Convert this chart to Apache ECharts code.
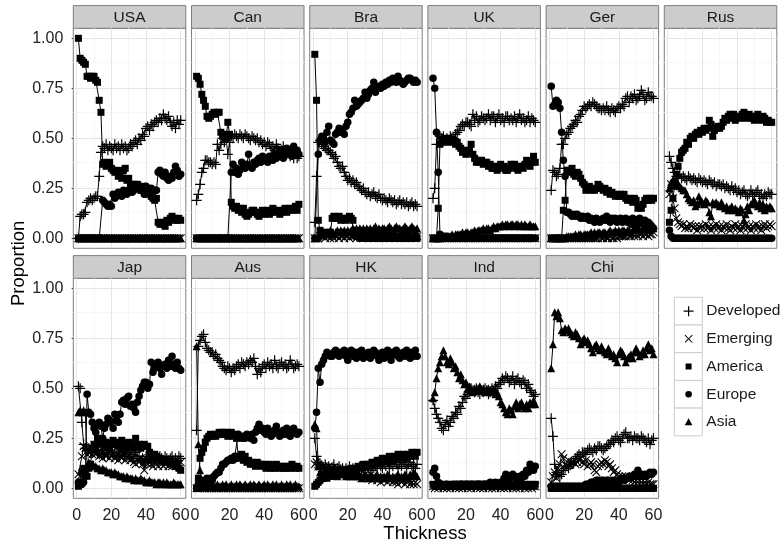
<!DOCTYPE html>
<html><head><meta charset="utf-8">
<script src="https://cdn.jsdelivr.net/npm/echarts@6.0.0/dist/echarts.min.js"></script>
<style>html,body{margin:0;padding:0;background:#fff}#chart{width:783px;height:550px}</style>
</head><body><div id="chart"></div>
<script>
const thickness = [1,2,3,4,5,6,7,8,9,10,11,12,13,14,15,16,17,18,19,20,21,22,23,24,25,26,27,28,29,30,
  31,32,33,34,35,36,37,38,39,40,41,42,43,44,45,46,47,48,49,50,51,52,53,54,55,56,57,58,59,60];
const panelNames = ['USA','Can','Bra','UK','Ger','Rus','Jap','Aus','HK','Ind','Chi'];
const seriesNames = ['Developed','Emerging','America','Europe','Asia'];
const xTicks = [0,20,40,60];
const yTicks = [0,0.25,0.5,0.75,1];

const zeros = [0,0,0,0,0,0,0,0,0,0, 0,0,0,0,0,0,0,0,0,0, 0,0,0,0,0,0,0,0,0,0,
  0,0,0,0,0,0,0,0,0,0, 0,0,0,0,0,0,0,0,0,0, 0,0,0,0,0,0,0,0,0,0];

// USA
const usaDev = [0.00,0.11,0.12,0.12,0.13,0.18,0.19,0.20,0.19,0.20, 0.21,0.21,0.31,0.43,0.46,0.45,0.47,0.44,0.46,0.45,
  0.44,0.47,0.45,0.46,0.44,0.47,0.45,0.46,0.44,0.45, 0.47,0.46,0.48,0.49,0.47,0.50,0.49,0.52,0.51,0.55,
  0.56,0.54,0.57,0.56,0.58,0.59,0.58,0.60,0.59,0.62, 0.60,0.59,0.61,0.58,0.56,0.58,0.55,0.59,0.57,0.59];
const usaEm = zeros;
const usaAm = [1.00,0.90,0.89,0.88,0.87,0.81,0.81,0.80,0.81,0.81, 0.79,0.78,0.69,0.63,0.37,0.38,0.36,0.37,0.38,0.35,
  0.34,0.33,0.34,0.31,0.33,0.30,0.34,0.35,0.29,0.30, 0.27,0.26,0.27,0.25,0.27,0.26,0.24,0.26,0.25,0.24,
  0.22,0.23,0.21,0.20,0.19,0.20,0.08,0.07,0.08,0.07, 0.06,0.09,0.08,0.10,0.11,0.09,0.10,0.09,0.10,0.09];
const usaEu = [0,0,0,0,0,0,0,0,0,0, 0,0,0,0,0.19,0.18,0.17,0.16,0.17,0.16,
  0.22,0.20,0.21,0.23,0.22,0.21,0.24,0.23,0.22,0.24, 0.25,0.23,0.24,0.26,0.25,0.26,0.24,0.25,0.22,0.26,
  0.25,0.24,0.25,0.23,0.24,0.24,0.33,0.34,0.32,0.31, 0.33,0.30,0.29,0.31,0.30,0.33,0.36,0.34,0.31,0.32];
const usaAs = zeros;

// Can
const canDev = [0.19,0.22,0.27,0.33,0.35,0.39,0.39,0.38,0.38,0.37, 0.38,0.37,0.47,0.44,0.47,0.50,0.48,0.50,0.42,0.48,
  0.51,0.50,0.52,0.51,0.50,0.52,0.51,0.50,0.52,0.51, 0.50,0.49,0.51,0.50,0.49,0.50,0.48,0.49,0.47,0.48,
  0.46,0.48,0.47,0.45,0.46,0.44,0.47,0.45,0.43,0.44, 0.46,0.43,0.42,0.44,0.41,0.43,0.40,0.42,0.40,0.41];
const canEm = zeros;
const canAm = [0.81,0.80,0.77,0.72,0.69,0.66,0.61,0.60,0.61,0.62, 0.63,0.62,0.63,0.63,0.53,0.51,0.52,0.50,0.58,0.52,
  0.18,0.16,0.15,0.16,0.14,0.15,0.13,0.15,0.12,0.11, 0.12,0.13,0.14,0.14,0.13,0.12,0.11,0.13,0.14,0.12,
  0.13,0.14,0.12,0.13,0.15,0.14,0.13,0.14,0.12,0.13, 0.14,0.15,0.13,0.14,0.15,0.14,0.15,0.16,0.14,0.17];
const canEu = [0,0,0,0,0,0,0,0,0,0, 0,0,0,0,0,0,0,0,0,0,
  0.33,0.37,0.33,0.35,0.32,0.34,0.38,0.36,0.35,0.37, 0.42,0.36,0.35,0.38,0.37,0.39,0.40,0.38,0.41,0.39,
  0.40,0.38,0.41,0.40,0.39,0.42,0.40,0.41,0.44,0.42, 0.40,0.43,0.45,0.42,0.44,0.41,0.46,0.43,0.44,0.42];
const canAs = zeros;

// Bra
const braDev = [0.08,0.31,0.48,0.49,0.47,0.46,0.45,0.44,0.44,0.43, 0.42,0.40,0.41,0.38,0.36,0.35,0.36,0.33,0.31,0.29,
  0.30,0.28,0.29,0.27,0.28,0.26,0.25,0.24,0.25,0.23, 0.22,0.23,0.21,0.22,0.23,0.21,0.20,0.22,0.20,0.19,
  0.20,0.19,0.18,0.20,0.19,0.18,0.19,0.17,0.18,0.19, 0.17,0.18,0.17,0.18,0.16,0.17,0.18,0.16,0.17,0.16];
const braEm = [0.00,0.00,0.00,0.01,0.01,0.01,0.00,0.01,0.01,0.00, 0.01,0.00,0.01,0.01,0.00,0.01,0.01,0.00,0.01,0.01,
  0.00,0.01,0.01,0.01,0.00,0.01,0.01,0.01,0.00,0.01, 0.01,0.00,0.01,0.01,0.00,0.01,0.01,0.00,0.01,0.01,
  0.00,0.01,0.01,0.00,0.01,0.01,0.00,0.01,0.01,0.00, 0.01,0.01,0.00,0.01,0.01,0.00,0.01,0.01,0.00,0.01];
const braAm = [0.92,0.69,0.09,0.04,0.03,0.02,0.02,0.03,0.02,0.03, 0.10,0.11,0.10,0.10,0.11,0.09,0.10,0.10,0.09,0.10,
  0.11,0.10,0.09,0.02,0.01,0.01,0.00,0.01,0.00,0.01, 0.00,0.01,0.00,0.00,0.01,0.00,0.00,0.01,0.00,0.00,
  0.01,0.00,0.00,0.01,0.00,0.00,0.01,0.00,0.00,0.01, 0.00,0.00,0.01,0.00,0.00,0.01,0.00,0.00,0.01,0.00];
const braEu = [0.00,0.00,0.42,0.49,0.51,0.50,0.48,0.53,0.56,0.49, 0.48,0.47,0.52,0.53,0.55,0.53,0.54,0.52,0.56,0.58,
  0.62,0.63,0.65,0.69,0.66,0.67,0.68,0.69,0.70,0.73, 0.70,0.72,0.74,0.75,0.78,0.73,0.75,0.76,0.75,0.77,
  0.76,0.78,0.77,0.79,0.78,0.80,0.79,0.78,0.81,0.79, 0.78,0.77,0.78,0.79,0.80,0.80,0.79,0.78,0.79,0.78];
const braAs = [0.00,0.00,0.01,0.02,0.02,0.03,0.02,0.03,0.02,0.04, 0.03,0.02,0.03,0.04,0.03,0.04,0.03,0.04,0.03,0.04,
  0.03,0.04,0.05,0.04,0.05,0.04,0.05,0.04,0.05,0.04, 0.05,0.04,0.05,0.04,0.05,0.06,0.04,0.05,0.04,0.05,
  0.05,0.04,0.05,0.06,0.05,0.04,0.05,0.06,0.05,0.05, 0.04,0.05,0.06,0.05,0.04,0.05,0.06,0.05,0.04,0.05];

// UK
const ukDev = [0.20,0.25,0.47,0.52,0.51,0.50,0.51,0.49,0.50,0.49, 0.51,0.50,0.50,0.52,0.53,0.54,0.56,0.57,0.56,0.58,
  0.58,0.57,0.56,0.62,0.59,0.61,0.58,0.59,0.61,0.60, 0.59,0.60,0.62,0.59,0.61,0.61,0.58,0.60,0.62,0.59,
  0.60,0.58,0.61,0.61,0.59,0.60,0.59,0.61,0.58,0.60, 0.62,0.59,0.60,0.58,0.59,0.61,0.58,0.60,0.59,0.58];
const ukEm = zeros;
const ukAm = [0.00,0.00,0.00,0.15,0.47,0.49,0.48,0.50,0.49,0.50, 0.48,0.49,0.49,0.47,0.48,0.46,0.45,0.43,0.44,0.42,
  0.43,0.44,0.47,0.42,0.40,0.38,0.39,0.38,0.39,0.37, 0.38,0.38,0.36,0.37,0.35,0.35,0.36,0.34,0.36,0.37,
  0.35,0.36,0.34,0.34,0.35,0.37,0.36,0.37,0.35,0.34, 0.36,0.36,0.35,0.37,0.39,0.38,0.36,0.38,0.41,0.38];
const ukEu = [0.80,0.75,0.53,0.33,0.02,0.01,0.01,0.00,0.01,0.00, 0,0,0,0,0,0,0,0,0,0,
  0,0,0,0,0,0,0,0,0,0, 0,0,0,0,0,0,0,0,0,0, 0,0,0,0,0,0,0,0,0,0, 0,0,0,0,0,0,0,0,0,0];
const ukAs = [0.00,0.00,0.00,0.00,0.00,0.01,0.01,0.01,0.01,0.01, 0.01,0.02,0.01,0.02,0.02,0.02,0.02,0.03,0.02,0.03,
  0.03,0.02,0.03,0.03,0.04,0.03,0.04,0.04,0.04,0.05, 0.04,0.05,0.05,0.04,0.05,0.06,0.05,0.06,0.06,0.06,
  0.07,0.06,0.07,0.07,0.06,0.07,0.07,0.06,0.07,0.07, 0.06,0.07,0.06,0.07,0.06,0.06,0.07,0.06,0.06,0.06];

// Ger
const gerDev = [0.24,0.34,0.33,0.31,0.32,0.35,0.47,0.47,0.50,0.52, 0.53,0.55,0.56,0.57,0.59,0.58,0.61,0.62,0.64,0.66,
  0.65,0.66,0.67,0.66,0.68,0.67,0.66,0.65,0.65,0.64, 0.65,0.64,0.66,0.64,0.63,0.65,0.64,0.63,0.65,0.66,
  0.65,0.67,0.66,0.70,0.71,0.68,0.71,0.70,0.72,0.69, 0.70,0.71,0.74,0.72,0.69,0.70,0.73,0.71,0.71,0.70];
const gerEm = [0,0,0,0,0,0,0,0,0,0, 0,0,0,0,0,0,0,0,0,0, 0,0,0,0,0,0,0,0,0.01,0, 0,0.01,0,0,0.01,0,0,0.01,0,0.01,
  0.01,0.01,0.01,0.01,0.02,0.01,0.01,0.02,0.01,0.02, 0.01,0.02,0.02,0.01,0.02,0.02,0.01,0.02,0.02,0.03];
const gerAm = [0,0,0,0,0,0,0,0.14,0.19,0.34, 0.34,0.33,0.35,0.32,0.31,0.33,0.32,0.30,0.28,0.27,
  0.24,0.25,0.26,0.24,0.25,0.24,0.25,0.27,0.26,0.25, 0.24,0.25,0.23,0.24,0.22,0.23,0.22,0.21,0.22,0.21,
  0.22,0.21,0.22,0.20,0.19,0.20,0.19,0.18,0.20,0.19, 0.15,0.16,0.15,0.17,0.19,0.20,0.19,0.20,0.19,0.20];
const gerEu = [0.76,0.66,0.67,0.69,0.68,0.65,0.53,0.39,0.31,0.13, 0.13,0.12,0.11,0.12,0.11,0.12,0.11,0.10,0.11,0.10,
  0.10,0.11,0.09,0.10,0.09,0.08,0.10,0.09,0.08,0.09, 0.10,0.09,0.11,0.09,0.08,0.10,0.09,0.10,0.08,0.09,
  0.10,0.08,0.09,0.10,0.08,0.09,0.07,0.10,0.08,0.09, 0.07,0.10,0.08,0.07,0.09,0.06,0.08,0.07,0.06,0.05];
const gerAs = [0,0,0,0,0,0,0,0,0,0.01, 0.01,0.01,0.01,0.01,0.02,0.01,0.02,0.02,0.01,0.02,
  0.02,0.02,0.02,0.03,0.02,0.03,0.02,0.03,0.03,0.02, 0.03,0.03,0.02,0.03,0.04,0.03,0.03,0.04,0.03,0.04,
  0.03,0.04,0.04,0.03,0.04,0.04,0.03,0.04,0.05,0.04, 0.05,0.04,0.04,0.05,0.04,0.05,0.05,0.04,0.05,0.05];

// Rus
const rusDev = [0.41,0.38,0.35,0.33,0.31,0.30,0.32,0.30,0.31,0.30, 0.29,0.31,0.30,0.29,0.30,0.29,0.28,0.30,0.29,0.28,
  0.29,0.28,0.27,0.29,0.28,0.27,0.28,0.26,0.27,0.27, 0.26,0.27,0.25,0.26,0.25,0.24,0.26,0.24,0.25,0.23,
  0.24,0.22,0.23,0.24,0.22,0.21,0.22,0.24,0.22,0.21, 0.23,0.24,0.21,0.22,0.20,0.22,0.21,0.23,0.22,0.22];
const rusEm = [0.22,0.27,0.20,0.15,0.10,0.08,0.07,0.06,0.07,0.05, 0.06,0.05,0.07,0.06,0.05,0.06,0.04,0.06,0.05,0.06,
  0.05,0.07,0.05,0.06,0.04,0.06,0.05,0.07,0.05,0.06, 0.04,0.06,0.05,0.07,0.05,0.04,0.06,0.05,0.07,0.05,
  0.06,0.04,0.06,0.05,0.07,0.05,0.06,0.04,0.06,0.05, 0.07,0.05,0.06,0.04,0.06,0.07,0.05,0.06,0.07,0.06];
const rusAm = [0.08,0.14,0.20,0.26,0.32,0.36,0.40,0.43,0.44,0.45, 0.48,0.47,0.50,0.51,0.50,0.52,0.53,0.52,0.54,0.53,
  0.55,0.54,0.55,0.59,0.57,0.51,0.54,0.55,0.56,0.55, 0.56,0.58,0.60,0.59,0.61,0.62,0.60,0.62,0.59,0.61,
  0.61,0.60,0.62,0.63,0.61,0.60,0.62,0.61,0.60,0.59, 0.61,0.62,0.60,0.59,0.61,0.60,0.58,0.59,0.58,0.58];
const rusEu = [0.04,0.01,0,0,0,0,0,0,0,0, 0,0,0,0,0,0,0,0,0,0, 0,0,0,0,0,0,0,0,0,0,
  0,0,0,0,0,0,0,0,0,0, 0,0,0,0,0,0,0,0,0,0, 0,0,0,0,0,0,0,0,0,0];
const rusAs = [0.25,0.28,0.29,0.28,0.29,0.27,0.26,0.25,0.24,0.24, 0.22,0.20,0.19,0.18,0.19,0.16,0.17,0.21,0.19,0.18,
  0.17,0.19,0.18,0.13,0.11,0.18,0.17,0.18,0.17,0.16, 0.18,0.16,0.15,0.16,0.14,0.15,0.16,0.14,0.15,0.14,
  0.13,0.15,0.14,0.09,0.12,0.16,0.14,0.17,0.18,0.19, 0.17,0.16,0.18,0.15,0.17,0.14,0.16,0.15,0.16,0.15];

// Jap
const japDev = [0.51,0.50,0.33,0.22,0.20,0.19,0.20,0.19,0.18,0.20, 0.19,0.18,0.17,0.19,0.18,0.16,0.18,0.17,0.19,0.18,
  0.17,0.18,0.16,0.18,0.17,0.19,0.18,0.17,0.16,0.18, 0.17,0.15,0.16,0.18,0.15,0.16,0.14,0.15,0.13,0.16,
  0.14,0.15,0.13,0.14,0.16,0.15,0.14,0.16,0.15,0.14, 0.16,0.15,0.14,0.15,0.16,0.14,0.15,0.14,0.16,0.15];
const japEm = [0.07,0.06,0.16,0.21,0.20,0.17,0.18,0.18,0.17,0.18, 0.17,0.18,0.16,0.17,0.15,0.17,0.16,0.18,0.15,0.16,
  0.17,0.15,0.16,0.14,0.16,0.15,0.17,0.14,0.15,0.16, 0.14,0.15,0.13,0.12,0.14,0.13,0.15,0.12,0.09,0.13,
  0.12,0.13,0.12,0.11,0.13,0.12,0.11,0.13,0.12,0.11, 0.12,0.13,0.11,0.12,0.11,0.13,0.12,0.11,0.12,0.13];
const japAm = [0.01,0.02,0.08,0.10,0.08,0.06,0.10,0.12,0.20,0.22, 0.21,0.25,0.23,0.22,0.24,0.21,0.23,0.22,0.20,0.22,
  0.24,0.22,0.23,0.21,0.22,0.24,0.21,0.22,0.20,0.23, 0.21,0.22,0.20,0.25,0.21,0.22,0.20,0.21,0.22,0.21,
  0.21,0.18,0.17,0.16,0.17,0.16,0.15,0.15,0.14,0.14, 0.13,0.14,0.13,0.13,0.12,0.12,0.11,0.12,0.10,0.09];
const japEu = [0.03,0.03,0.02,0.03,0.06,0.47,0.38,0.37,0.33,0.30, 0.28,0.32,0.33,0.31,0.25,0.30,0.32,0.35,0.34,0.33,
  0.30,0.37,0.34,0.33,0.37,0.43,0.44,0.42,0.45,0.46, 0.41,0.42,0.40,0.38,0.43,0.46,0.49,0.51,0.53,0.53,
  0.50,0.52,0.63,0.58,0.60,0.62,0.63,0.60,0.57,0.61, 0.62,0.60,0.64,0.61,0.66,0.62,0.60,0.63,0.60,0.59];
const japAs = [0.38,0.39,0.38,0.39,0.38,0.11,0.13,0.12,0.12,0.11, 0.11,0.10,0.10,0.09,0.10,0.09,0.09,0.08,0.08,0.08,
  0.07,0.08,0.07,0.07,0.06,0.06,0.06,0.05,0.06,0.05, 0.05,0.05,0.04,0.05,0.04,0.04,0.05,0.04,0.04,0.03,
  0.03,0.04,0.03,0.03,0.03,0.02,0.03,0.03,0.02,0.03, 0.02,0.03,0.02,0.02,0.02,0.03,0.02,0.02,0.02,0.02];

// Aus
const ausDev = [0.29,0.71,0.74,0.76,0.77,0.73,0.70,0.69,0.68,0.68, 0.66,0.67,0.65,0.64,0.63,0.61,0.60,0.59,0.61,0.60,
  0.58,0.60,0.59,0.61,0.62,0.60,0.63,0.62,0.61,0.63, 0.62,0.64,0.63,0.65,0.61,0.57,0.60,0.58,0.61,0.62,
  0.60,0.63,0.61,0.62,0.60,0.64,0.61,0.60,0.62,0.63, 0.61,0.62,0.60,0.61,0.64,0.62,0.60,0.61,0.62,0.61];
const ausEm = zeros;
const ausAm = [0.00,0.05,0.15,0.18,0.20,0.23,0.25,0.26,0.27,0.26, 0.27,0.26,0.27,0.28,0.27,0.28,0.27,0.28,0.26,0.27,
  0.28,0.26,0.27,0.25,0.16,0.15,0.17,0.14,0.16,0.13, 0.14,0.12,0.13,0.12,0.11,0.13,0.12,0.12,0.11,0.12,
  0.10,0.11,0.12,0.10,0.11,0.10,0.12,0.11,0.10,0.11, 0.10,0.11,0.10,0.11,0.10,0.12,0.11,0.10,0.11,0.10];
const ausEu = [0.00,0.02,0.03,0.04,0.03,0.04,0.05,0.04,0.05,0.04, 0.06,0.07,0.08,0.08,0.10,0.12,0.12,0.13,0.14,0.14,
  0.15,0.14,0.16,0.15,0.27,0.26,0.25,0.26,0.25,0.27, 0.26,0.25,0.27,0.24,0.28,0.30,0.32,0.29,0.30,0.28,
  0.27,0.30,0.28,0.26,0.27,0.29,0.31,0.28,0.26,0.27, 0.29,0.27,0.30,0.28,0.26,0.29,0.30,0.28,0.27,0.28];
const ausAs = [0.71,0.22,0.09,0.02,0.01,0.01,0.01,0.01,0.01,0.02, 0.01,0.01,0.02,0.01,0.01,0.02,0.01,0.02,0.01,0.01,
  0.02,0.01,0.01,0.02,0.01,0.02,0.01,0.01,0.02,0.01, 0.01,0.02,0.01,0.02,0.01,0.01,0.02,0.01,0.01,0.02,
  0.01,0.02,0.01,0.01,0.02,0.01,0.02,0.01,0.01,0.02, 0.01,0.01,0.02,0.01,0.02,0.01,0.01,0.02,0.01,0.01];

// HK
const hkDev = [0.25,0.16,0.13,0.12,0.11,0.10,0.12,0.10,0.11,0.09, 0.10,0.12,0.09,0.10,0.11,0.09,0.10,0.08,0.10,0.09,
  0.11,0.09,0.10,0.08,0.10,0.09,0.11,0.10,0.09,0.10, 0.11,0.10,0.12,0.09,0.10,0.11,0.10,0.12,0.11,0.10,
  0.12,0.11,0.13,0.10,0.12,0.11,0.13,0.12,0.10,0.12, 0.11,0.13,0.12,0.10,0.12,0.13,0.11,0.12,0.10,0.12];
const hkEm = [0.12,0.13,0.12,0.11,0.10,0.11,0.09,0.10,0.11,0.09, 0.10,0.08,0.09,0.10,0.08,0.09,0.07,0.09,0.08,0.07,
  0.08,0.07,0.06,0.08,0.07,0.06,0.07,0.05,0.06,0.07, 0.05,0.06,0.05,0.04,0.06,0.05,0.04,0.05,0.03,0.05,
  0.04,0.05,0.03,0.04,0.05,0.03,0.04,0.03,0.02,0.04, 0.03,0.04,0.02,0.03,0.04,0.02,0.03,0.02,0.03,0.02];
const hkAm = [0.01,0.02,0.03,0.04,0.05,0.05,0.06,0.05,0.07,0.06, 0.07,0.06,0.07,0.08,0.07,0.08,0.09,0.08,0.09,0.08,
  0.09,0.10,0.09,0.10,0.09,0.11,0.10,0.11,0.12,0.11, 0.12,0.11,0.12,0.13,0.12,0.13,0.14,0.13,0.14,0.15,
  0.14,0.15,0.14,0.16,0.15,0.14,0.16,0.15,0.17,0.16, 0.15,0.17,0.16,0.15,0.17,0.16,0.18,0.17,0.16,0.18];
const hkEu = [0.30,0.38,0.60,0.53,0.62,0.64,0.66,0.68,0.67,0.66, 0.66,0.68,0.69,0.67,0.66,0.68,0.67,0.69,0.66,0.64,
  0.67,0.69,0.66,0.68,0.65,0.68,0.67,0.69,0.65,0.67, 0.66,0.68,0.65,0.67,0.69,0.68,0.66,0.64,0.67,0.68,
  0.65,0.67,0.69,0.66,0.64,0.68,0.67,0.69,0.66,0.65, 0.67,0.68,0.66,0.69,0.67,0.65,0.68,0.66,0.69,0.66];
const hkAs = [0.32,0.30,0.11,0.08,0.07,0.08,0.07,0.08,0.07,0.08, 0.07,0.08,0.07,0.06,0.08,0.07,0.08,0.07,0.06,0.07,
  0.06,0.07,0.06,0.07,0.06,0.07,0.06,0.05,0.06,0.07, 0.06,0.05,0.07,0.06,0.05,0.06,0.07,0.05,0.06,0.05,
  0.06,0.05,0.07,0.06,0.05,0.06,0.05,0.06,0.07,0.05, 0.06,0.05,0.07,0.06,0.05,0.07,0.06,0.08,0.07,0.06];

// Ind
const indDev = [0.44,0.40,0.37,0.35,0.33,0.30,0.29,0.32,0.34,0.31, 0.33,0.36,0.35,0.38,0.37,0.41,0.40,0.43,0.46,0.45,
  0.47,0.48,0.50,0.49,0.48,0.50,0.48,0.47,0.49,0.48, 0.50,0.49,0.47,0.48,0.50,0.49,0.51,0.50,0.52,0.53,
  0.55,0.54,0.56,0.55,0.53,0.54,0.56,0.52,0.54,0.55, 0.53,0.52,0.54,0.53,0.50,0.52,0.49,0.48,0.46,0.47];
const indEm = [0.01,0.00,0.01,0.00,0.01,0.01,0.00,0.01,0.00,0.01, 0.00,0.01,0.01,0.00,0.01,0.00,0.01,0.00,0.01,0.01,
  0.00,0.01,0.00,0.01,0.01,0.00,0.01,0.00,0.01,0.00, 0.01,0.01,0.00,0.01,0.00,0.01,0.00,0.01,0.01,0.00,
  0.01,0.00,0.01,0.00,0.01,0.01,0.00,0.01,0.00,0.01, 0.00,0.01,0.01,0.00,0.01,0.00,0.01,0.00,0.01,0.01];
const indAm = [0.02,0.01,0.01,0.02,0.01,0.01,0.02,0.01,0.01,0.02, 0.01,0.01,0.02,0.01,0.01,0.02,0.01,0.02,0.01,0.01,
  0.02,0.01,0.01,0.02,0.01,0.01,0.02,0.01,0.02,0.01, 0.01,0.02,0.01,0.01,0.02,0.01,0.02,0.01,0.01,0.02,
  0.01,0.01,0.02,0.01,0.02,0.01,0.01,0.02,0.01,0.01, 0.02,0.01,0.01,0.02,0.01,0.01,0.02,0.01,0.01,0.02];
const indEu = [0.08,0.10,0.06,0.03,0.02,0.02,0.01,0.01,0.02,0.01, 0.01,0.01,0.02,0.01,0.02,0.01,0.02,0.02,0.01,0.02,
  0.02,0.01,0.02,0.02,0.01,0.02,0.02,0.02,0.01,0.02, 0.02,0.02,0.02,0.03,0.02,0.02,0.03,0.02,0.02,0.03,
  0.02,0.05,0.07,0.06,0.05,0.06,0.07,0.06,0.04,0.05, 0.06,0.05,0.07,0.06,0.09,0.08,0.12,0.10,0.09,0.11];
const indAs = [0.45,0.48,0.55,0.60,0.63,0.66,0.69,0.66,0.63,0.62, 0.65,0.63,0.60,0.61,0.58,0.55,0.57,0.54,0.52,0.53,
  0.50,0.51,0.49,0.48,0.50,0.49,0.50,0.51,0.49,0.50, 0.48,0.49,0.50,0.49,0.48,0.49,0.47,0.48,0.46,0.43,
  0.42,0.40,0.38,0.37,0.40,0.39,0.37,0.41,0.43,0.40, 0.42,0.43,0.41,0.40,0.42,0.40,0.43,0.42,0.44,0.42];

// Chi
const chiDev = [0.35,0.26,0.12,0.08,0.07,0.06,0.07,0.09,0.10,0.11, 0.10,0.12,0.12,0.13,0.15,0.16,0.17,0.16,0.18,0.18,
  0.17,0.19,0.20,0.19,0.18,0.20,0.19,0.21,0.21,0.20, 0.19,0.20,0.21,0.22,0.22,0.24,0.23,0.25,0.26,0.24,
  0.23,0.25,0.27,0.28,0.25,0.25,0.26,0.24,0.26,0.25, 0.25,0.24,0.26,0.25,0.24,0.23,0.25,0.22,0.24,0.25];
const chiEm = [0.03,0.06,0.08,0.05,0.10,0.12,0.17,0.15,0.12,0.11, 0.14,0.12,0.13,0.13,0.12,0.13,0.14,0.15,0.13,0.12,
  0.14,0.11,0.12,0.13,0.12,0.09,0.08,0.11,0.12,0.13, 0.12,0.14,0.13,0.11,0.12,0.10,0.08,0.09,0.07,0.06,
  0.05,0.06,0.05,0.06,0.05,0.04,0.05,0.04,0.03,0.04, 0.03,0.04,0.03,0.02,0.03,0.02,0.03,0.02,0.02,0.02];
const chiAm = zeros;
const chiEu = [0.01,0.01,0.01,0.01,0.01,0.01,0.01,0.01,0.01,0.01, 0.01,0.01,0.01,0.01,0.01,0.01,0.01,0.01,0.01,0.01,
  0.02,0.02,0.02,0.03,0.03,0.03,0.04,0.04,0.03,0.04, 0.04,0.03,0.04,0.04,0.03,0.04,0.03,0.04,0.04,0.03,
  0.04,0.05,0.04,0.05,0.05,0.06,0.05,0.06,0.07,0.06, 0.09,0.06,0.07,0.06,0.07,0.06,0.07,0.08,0.07,0.08];
const chiAs = [0.60,0.72,0.88,0.86,0.88,0.85,0.79,0.78,0.80,0.79, 0.80,0.78,0.77,0.76,0.78,0.77,0.75,0.72,0.74,0.75,
  0.73,0.74,0.72,0.70,0.68,0.71,0.72,0.70,0.69,0.71, 0.69,0.68,0.67,0.70,0.68,0.66,0.67,0.65,0.63,0.67,
  0.69,0.68,0.66,0.63,0.65,0.66,0.67,0.65,0.68,0.70, 0.68,0.66,0.67,0.69,0.67,0.70,0.72,0.69,0.70,0.67];

const panelSeries = [
  [usaDev, usaEm, usaAm, usaEu, usaAs],
  [canDev, canEm, canAm, canEu, canAs],
  [braDev, braEm, braAm, braEu, braAs],
  [ukDev, ukEm, ukAm, ukEu, ukAs],
  [gerDev, gerEm, gerAm, gerEu, gerAs],
  [rusDev, rusEm, rusAm, rusEu, rusAs],
  [japDev, japEm, japAm, japEu, japAs],
  [ausDev, ausEm, ausAm, ausEu, ausAs],
  [hkDev, hkEm, hkAm, hkEu, hkAs],
  [indDev, indEm, indAm, indEu, indAs],
  [chiDev, chiEm, chiAm, chiEu, chiAs]
];

// ---- styling / layout ----
const FONT = '"Liberation Sans", Arial, Helvetica, sans-serif';
const PLUS = 'path://M4.4,0H5.6V10H4.4ZM0,4.4H10V5.6H0Z';
const CROSS = 'path://M0.85,0L5,4.15L9.15,0L10,0.85L5.85,5L10,9.15L9.15,10L5,5.85L0.85,10L0,9.15L4.15,5L0,0.85Z';
const symbols = [PLUS, CROSS, 'rect', 'circle', 'triangle'];
const symbolSizes = [10, 8.5, 7, 7.5, 8];
const PAD = 'M0,0h0.02v0.02h-0.02zM9.98,9.98h0.02v0.02h-0.02z';
const legendIcons = [
  PLUS,
  'path://' + PAD + 'M1.7,1L5,4.3L8.3,1L9,1.7L5.7,5L9,8.3L8.3,9L5,5.7L1.7,9L1,8.3L4.3,5L1,1.7Z',
  'path://' + PAD + 'M2,2H8V8H2Z',
  'path://' + PAD + 'M1.7,5A3.3,3.3,0,1,0,8.3,5A3.3,3.3,0,1,0,1.7,5Z',
  'path://' + PAD + 'M5,1.3L8.8,8.2L1.2,8.2Z'
];
const MAJ = '#e5e5e5', MIN = '#f7f7f7';
const left0 = 73.3, colStep = 118.2, PW = 112.5, PH = 220, stripH = 22.7;
const rowTop = [28.3, 278.3];

const grids = [], xAxes = [], yAxes = [], series = [], graphics = [];
panelNames.forEach((name, i) => {
  const row = i < 6 ? 0 : 1, col = i < 6 ? i : i - 6;
  const L = left0 + col * colStep, T = rowTop[row];
  grids.push({left: L, top: T, width: PW, height: PH, show: true, backgroundColor: '#fff',
    borderColor: '#7f7f7f', borderWidth: 1});
  const showX = row === 1, showY = col === 0;
  xAxes.push({gridIndex: i, type: 'value', min: -1.95, max: 62.95,
    axisLine: {show: false}, splitLine: {show: false},
    axisTick: {show: showX, customValues: xTicks, length: 5, lineStyle: {color: '#333', width: 1}},
    axisLabel: {show: showX, customValues: xTicks, margin: 9, fontSize: 16, color: '#222', fontFamily: FONT}});
  yAxes.push({gridIndex: i, type: 'value', min: -0.05, max: 1.05,
    axisLine: {show: false}, splitLine: {show: false},
    axisTick: {show: showY, customValues: yTicks, length: 5, lineStyle: {color: '#333', width: 1}},
    axisLabel: {show: showY, customValues: yTicks, margin: 10, fontSize: 16, color: '#222', fontFamily: FONT,
      formatter: v => v.toFixed(2)}});
  const ml = [];
  [10, 30, 50].forEach(v => ml.push({xAxis: v, lineStyle: {color: MIN, width: 1, type: 'solid'}}));
  [0.125, 0.375, 0.625, 0.875].forEach(v => ml.push({yAxis: v, lineStyle: {color: MIN, width: 1, type: 'solid'}}));
  xTicks.forEach(v => ml.push({xAxis: v, lineStyle: {color: MAJ, width: 1, type: 'solid'}}));
  yTicks.forEach(v => ml.push({yAxis: v, lineStyle: {color: MAJ, width: 1, type: 'solid'}}));
  series.push({type: 'line', xAxisIndex: i, yAxisIndex: i, data: [], silent: true, z: 1,
    markLine: {silent: true, z: 1, symbol: ['none', 'none'], label: {show: false}, animation: false,
      emphasis: {disabled: true}, data: ml}});
  seriesNames.forEach((sn, k) => {
    const vals = panelSeries[i][k];
    series.push({name: sn, type: 'line', xAxisIndex: i, yAxisIndex: i, z: 3,
      data: thickness.map((t, j) => [t, vals[j]]),
      symbol: symbols[k], symbolSize: symbolSizes[k], showSymbol: true, clip: false,
      itemStyle: {color: '#000', borderWidth: 0}, lineStyle: {color: '#000', width: 1},
      emphasis: {disabled: true}, animation: false});
  });
  graphics.push({type: 'rect', shape: {x: L, y: T - stripH, width: PW, height: stripH},
    style: {fill: '#cccccc', stroke: '#7f7f7f', lineWidth: 1}, silent: true});
  graphics.push({type: 'text', x: L + PW / 2, y: T - stripH / 2 + 0.5,
    style: {text: name, fontSize: 15.5, fontFamily: FONT, fill: '#1a1a1a', align: 'center', verticalAlign: 'middle'}, silent: true});
});
// legend key boxes
const keyTop = 297.3, keyH = 27.7;
seriesNames.forEach((n, k) => {
  graphics.push({type: 'rect', shape: {x: 674.3, y: keyTop + k * keyH, width: 28, height: keyH},
    style: {fill: '#fff', stroke: '#cccccc', lineWidth: 1}, silent: true, z: -1});
});
graphics.push({type: 'text', x: 19, y: 263.3, rotation: Math.PI / 2,
  style: {text: 'Proportion', fontSize: 18.5, fontFamily: FONT, fill: '#000', align: 'center', verticalAlign: 'middle'}});
graphics.push({type: 'text', x: 425, y: 533.5,
  style: {text: 'Thickness', fontSize: 18.5, fontFamily: FONT, fill: '#000', align: 'center', verticalAlign: 'middle'}});

const chart = echarts.init(document.getElementById('chart'), null, {renderer: 'canvas'});
chart.setOption({
  animation: false,
  backgroundColor: '#fff',
  grid: grids, xAxis: xAxes, yAxis: yAxes, series: series,
  legend: {orient: 'vertical', left: 683.6, top: keyTop + keyH / 2 - 9, padding: 0,
    itemWidth: 25.4, itemHeight: 10, itemGap: keyH - 18, selectedMode: false, symbolKeepAspect: true,
    itemStyle: {borderWidth: 0},
    textStyle: {fontSize: 15.5, fontFamily: FONT, color: '#1a1a1a', lineHeight: 18},
    data: seriesNames.map((n, k) => ({name: n, icon: legendIcons[k]}))},
  graphic: {elements: graphics}
});
</script>
</body></html>
